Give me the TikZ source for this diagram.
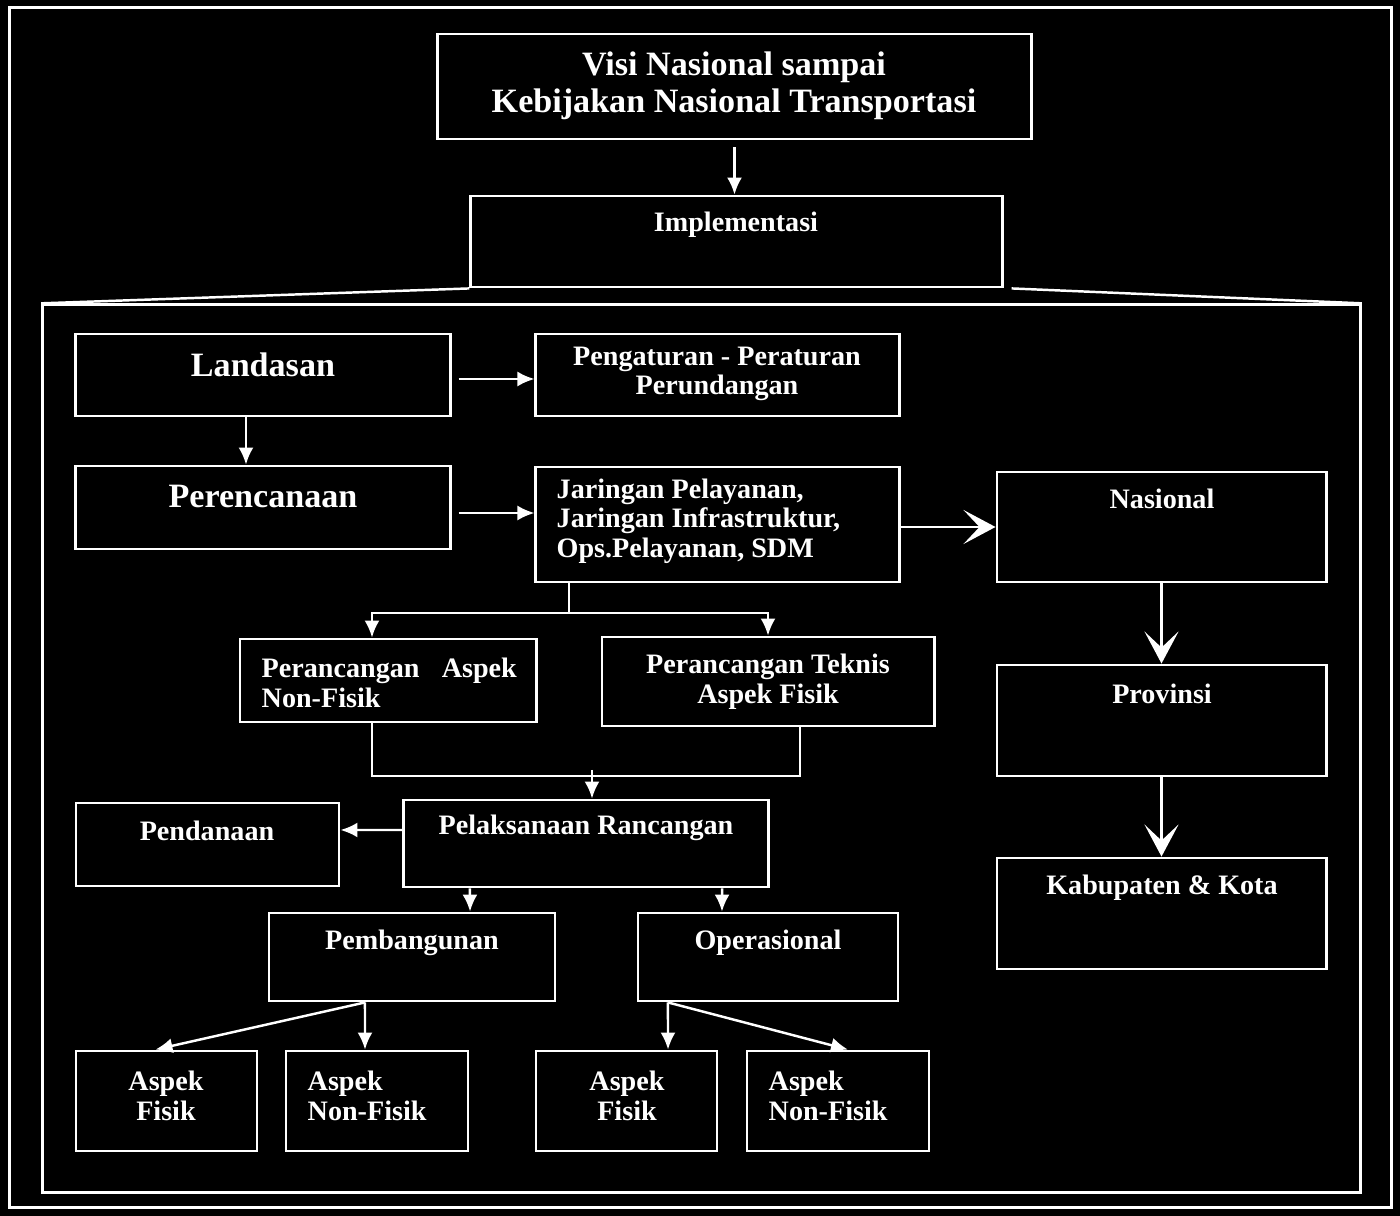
\documentclass[tikz,border=0pt]{standalone}
\usepackage{fontspec}
\setmainfont{Liberation Serif}
\usepackage{tikz}
\usetikzlibrary{arrows.meta,positioning}

\begin{document}
\begin{tikzpicture}[x=0.01cm,y=-0.01cm,
    box/.style={draw=white,line width=0.8pt,inner sep=0pt},
    txt/.style={text=white,inner sep=0pt,font=\bfseries\fontsize{8}{8.4}\selectfont,align=center},
    bigtxt/.style={txt,font=\bfseries\fontsize{9.7}{10.5}\selectfont},
    wire/.style={draw=white,line width=0.7pt},
    arr/.style={wire,-{Latex[length=1.7mm,width=1.5mm]}},
    bigarr/.style={wire,-{Stealth[length=3.2mm,width=3.4mm,inset=1.6mm]}}]
  \useasboundingbox (0,0) rectangle (1400,1216);
  \fill[black] (0,0) rectangle (1400,1216);

  \node[box,minimum width=13.81cm,minimum height=11.99cm] (frame) at (700.5,607.5) {};
  \node[box,minimum width=13.17cm,minimum height=8.87cm] (inner) at (701.5,748.5) {};

  \node[box,minimum width=5.93cm,minimum height=1.05cm] (visi) at (734.5,86.5) {};
  \node[bigtxt] (visi-t) at (734,86) {Visi Nasional sampai\\Kebijakan Nasional Transportasi};
  \node[box,minimum width=5.31cm,minimum height=0.91cm] (impl) at (736.5,241.5) {};
  \node[txt] (impl-t) at (736,225) {Implementasi};

  \node[box,minimum width=3.74cm,minimum height=0.82cm] (landasan) at (263,375) {};
  \node[bigtxt] (landasan-t) at (263,365) {Landasan};
  \node[box,minimum width=3.63cm,minimum height=0.82cm] (pengaturan) at (717.5,375) {};
  \node[txt] (pengaturan-t) at (717,374) {Pengaturan - Peraturan\\Perundangan};
  \node[box,minimum width=3.74cm,minimum height=0.83cm] (perencanaan) at (263,507.5) {};
  \node[bigtxt] (perencanaan-t) at (263,497) {Perencanaan};
  \node[box,minimum width=3.63cm,minimum height=1.15cm] (jaringan) at (717.5,524.5) {};
  \node[txt,align=left,anchor=west] (jaringan-t) at (556,521) {Jaringan Pelayanan,\\Jaringan Infrastruktur,\\Ops.Pelayanan, SDM};

  \node[box,minimum width=3.29cm,minimum height=1.10cm] (nasional) at (1161.5,527) {};
  \node[txt] (nasional-t) at (1162,499) {Nasional};
  \node[box,minimum width=3.29cm,minimum height=1.11cm] (provinsi) at (1161.5,720.5) {};
  \node[txt] (provinsi-t) at (1162,694) {Provinsi};
  \node[box,minimum width=3.29cm,minimum height=1.11cm] (kabkota) at (1161.5,913.5) {};
  \node[txt] (kabkota-t) at (1162,888) {Kabupaten \& Kota};

  \node[box,minimum width=2.96cm,minimum height=0.83cm] (perNF) at (388,680.5) {};
  \node[txt,align=left,anchor=west,text width=2.55cm] (perNF-t) at (261,683) {Perancangan\hfill Aspek\\Non-Fisik};
  \node[box,minimum width=3.32cm,minimum height=0.89cm] (perT) at (768,681.5) {};
  \node[txt] (perT-t) at (768,682) {Perancangan Teknis\\Aspek Fisik};

  \node[box,minimum width=3.64cm,minimum height=0.87cm] (pelaksanaan) at (586,843.5) {};
  \node[txt] (pelaksanaan-t) at (586,828) {Pelaksanaan Rancangan};
  \node[box,minimum width=2.63cm,minimum height=0.83cm] (pendanaan) at (207.5,844.5) {};
  \node[txt] (pendanaan-t) at (207,831) {Pendanaan};

  \node[box,minimum width=2.86cm,minimum height=0.88cm] (pembangunan) at (412,957) {};
  \node[txt] (pembangunan-t) at (412,943) {Pembangunan};
  \node[box,minimum width=2.60cm,minimum height=0.88cm] (operasional) at (768,957) {};
  \node[txt] (operasional-t) at (768,943) {Operasional};

  \node[box,minimum width=1.81cm,minimum height=1.00cm] (fisikA) at (166.5,1101) {};
  \node[txt] (fisikA-t) at (166,1096) {Aspek\\Fisik};
  \node[box,minimum width=1.82cm,minimum height=1.00cm] (nonfisikA) at (377,1101) {};
  \node[txt,align=left,anchor=west] (nonfisikA-t) at (307,1096) {Aspek\\Non-Fisik};
  \node[box,minimum width=1.81cm,minimum height=1.00cm] (fisikB) at (626.5,1101) {};
  \node[txt] (fisikB-t) at (627,1096) {Aspek\\Fisik};
  \node[box,minimum width=1.82cm,minimum height=1.00cm] (nonfisikB) at (838,1101) {};
  \node[txt,align=left,anchor=west] (nonfisikB-t) at (768,1096) {Aspek\\Non-Fisik};

  \draw[arr,shorten <=2pt] (visi.south) -- (visi.south |- impl.north);
  \draw[wire] (impl.south west) -- (inner.north west);
  \draw[wire] ([xshift=0.08cm]impl.south east) -- (inner.north east);

  \draw[arr,shorten <=2pt] ([yshift=-0.04cm]landasan.east) -- ([yshift=-0.04cm]pengaturan.west);
  \draw[arr] ([xshift=-0.17cm]landasan.south) -- ([xshift=-0.17cm]perencanaan.north);
  \draw[arr,shorten <=2pt] ([yshift=-0.055cm]perencanaan.east) -- ([yshift=-0.055cm]perencanaan.east -| jaringan.west);
  \draw[bigarr] (jaringan.east |- nasional.west) -- (nasional.west);
  \draw[bigarr] (nasional.south) -- (provinsi.north);
  \draw[bigarr] (provinsi.south) -- (kabkota.north);

  \coordinate (fork) at (569,613);
  \draw[wire] (jaringan.south -| fork) -- (fork);
  \draw[arr] (fork) -| ([xshift=-0.16cm]perNF.north);
  \draw[arr] (fork) -| (perT.north);

  \coordinate (join) at (592,776);
  \draw[wire] ([xshift=-0.16cm]perNF.south) |- (join) -| ([xshift=0.32cm]perT.south);
  \draw[arr] ([yshift=0.06cm]join) -- (pelaksanaan.north -| join);
  \draw[arr] ([yshift=0.135cm]pelaksanaan.west) -- ([yshift=0.145cm]pendanaan.east);
  \draw[arr] ([xshift=-1.16cm]pelaksanaan.south) -- ([xshift=0.58cm]pembangunan.north);
  \draw[arr] ([xshift=1.36cm]pelaksanaan.south) -- ([xshift=-0.46cm]operasional.north);

  \draw[arr] ([xshift=-0.47cm]pembangunan.south) -- ([xshift=-0.11cm]fisikA.north);
  \draw[arr] ([xshift=-0.47cm]pembangunan.south) -- ([xshift=-0.12cm]nonfisikA.north);
  \draw[arr] ([xshift=-1.00cm]operasional.south) -- ([xshift=0.415cm]fisikB.north);
  \draw[arr] ([xshift=-1.00cm]operasional.south) -- ([xshift=0.10cm]nonfisikB.north);
\end{tikzpicture}
\end{document}
